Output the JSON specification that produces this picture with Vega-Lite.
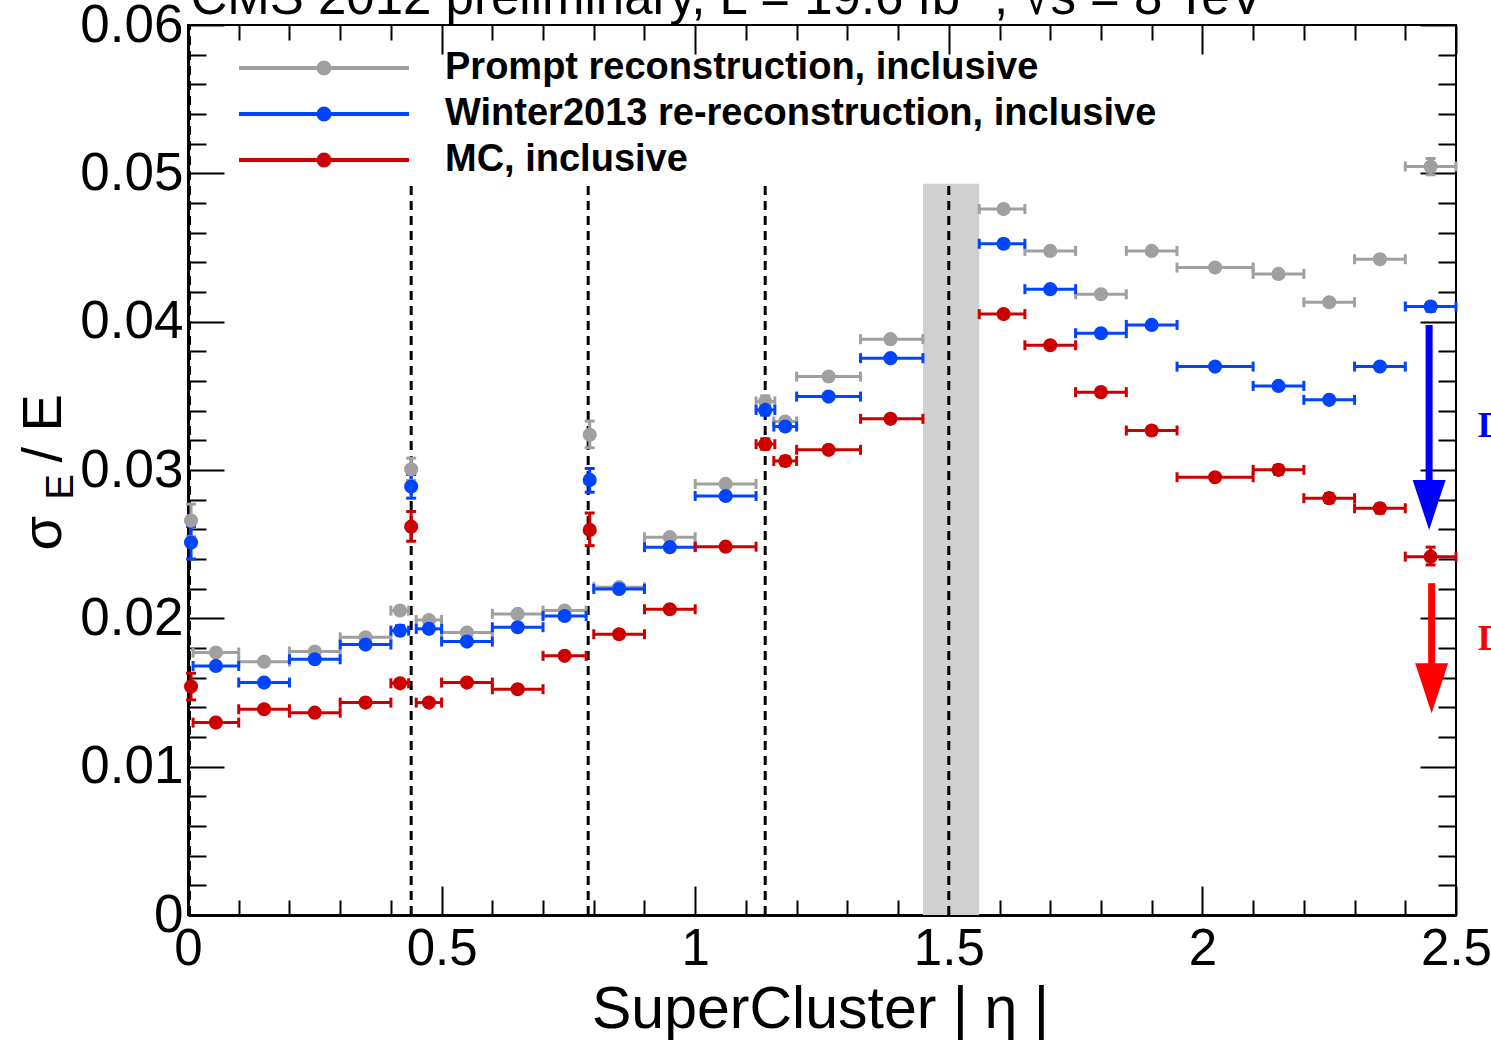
{
  "$schema": "https://vega.github.io/schema/vega-lite/v6.json",
  "width": 1268,
  "height": 890,
  "autosize": {"type": "none"},
  "padding": {"left": 188, "top": 25, "right": 35, "bottom": 127},
  "background": "white",
  "datasets": {
    "band": [{"x1": 1.449, "x2": 1.56, "y1": 0, "y2": 0.0493}],
    "lines": [
      {"x": 0.003, "yb": 0, "yt": 0.06},
      {"x": 0.44, "yb": 0, "yt": 0.0493},
      {"x": 0.789, "yb": 0, "yt": 0.0493},
      {"x": 1.138, "yb": 0, "yt": 0.0493},
      {"x": 1.5, "yb": 0, "yt": 0.0493}
    ],
    "arrows": [
      {"c": "#0000ff", "x": 2.447, "y1": 0.03978, "y2": 0.0276, "tip": 0.02596},
      {"c": "#ff0000", "x": 2.452, "y1": 0.02237, "y2": 0.01524, "tip": 0.0136}
    ],
    "notes": [
      {"c": "#0000ff", "x": 2.543, "y": 0.03223, "t": "Data"},
      {"c": "#ff0000", "x": 2.543, "y": 0.01787, "t": "Data"}
    ],
    "pts": [
      {"s": "Prompt reconstruction, inclusive", "x": 0.006, "xlo": 0.006, "xhi": 0.006, "y": 0.02659, "ylo": 0.0255, "yhi": 0.0277},
      {"s": "Prompt reconstruction, inclusive", "x": 0.055, "xlo": 0.01, "xhi": 0.1, "y": 0.01769, "ylo": 0.01769, "yhi": 0.01769},
      {"s": "Prompt reconstruction, inclusive", "x": 0.15, "xlo": 0.1, "xhi": 0.2, "y": 0.01708, "ylo": 0.01708, "yhi": 0.01708},
      {"s": "Prompt reconstruction, inclusive", "x": 0.25, "xlo": 0.2, "xhi": 0.3, "y": 0.01776, "ylo": 0.01776, "yhi": 0.01776},
      {"s": "Prompt reconstruction, inclusive", "x": 0.35, "xlo": 0.3, "xhi": 0.4, "y": 0.01872, "ylo": 0.01872, "yhi": 0.01872},
      {"s": "Prompt reconstruction, inclusive", "x": 0.418, "xlo": 0.4, "xhi": 0.435, "y": 0.02052, "ylo": 0.0203, "yhi": 0.0207},
      {"s": "Prompt reconstruction, inclusive", "x": 0.44, "xlo": 0.44, "xhi": 0.44, "y": 0.03005, "ylo": 0.0293, "yhi": 0.0308},
      {"s": "Prompt reconstruction, inclusive", "x": 0.475, "xlo": 0.45, "xhi": 0.5, "y": 0.01989, "ylo": 0.0197, "yhi": 0.0201},
      {"s": "Prompt reconstruction, inclusive", "x": 0.55, "xlo": 0.5, "xhi": 0.6, "y": 0.01904, "ylo": 0.01904, "yhi": 0.01904},
      {"s": "Prompt reconstruction, inclusive", "x": 0.65, "xlo": 0.6, "xhi": 0.7, "y": 0.0203, "ylo": 0.0203, "yhi": 0.0203},
      {"s": "Prompt reconstruction, inclusive", "x": 0.7425, "xlo": 0.7, "xhi": 0.785, "y": 0.02052, "ylo": 0.02052, "yhi": 0.02052},
      {"s": "Prompt reconstruction, inclusive", "x": 0.792, "xlo": 0.792, "xhi": 0.792, "y": 0.03237, "ylo": 0.0315, "yhi": 0.0333},
      {"s": "Prompt reconstruction, inclusive", "x": 0.85, "xlo": 0.8, "xhi": 0.9, "y": 0.0221, "ylo": 0.0221, "yhi": 0.0221},
      {"s": "Prompt reconstruction, inclusive", "x": 0.95, "xlo": 0.9, "xhi": 1.0, "y": 0.02547, "ylo": 0.02547, "yhi": 0.02547},
      {"s": "Prompt reconstruction, inclusive", "x": 1.06, "xlo": 1.0, "xhi": 1.12, "y": 0.02906, "ylo": 0.02906, "yhi": 0.02906},
      {"s": "Prompt reconstruction, inclusive", "x": 1.138, "xlo": 1.12, "xhi": 1.157, "y": 0.03462, "ylo": 0.0343, "yhi": 0.035},
      {"s": "Prompt reconstruction, inclusive", "x": 1.1775, "xlo": 1.155, "xhi": 1.2, "y": 0.03327, "ylo": 0.0331, "yhi": 0.0335},
      {"s": "Prompt reconstruction, inclusive", "x": 1.263, "xlo": 1.2, "xhi": 1.326, "y": 0.0363, "ylo": 0.0363, "yhi": 0.0363},
      {"s": "Prompt reconstruction, inclusive", "x": 1.385, "xlo": 1.326, "xhi": 1.449, "y": 0.03882, "ylo": 0.03882, "yhi": 0.03882},
      {"s": "Prompt reconstruction, inclusive", "x": 1.608, "xlo": 1.56, "xhi": 1.65, "y": 0.04759, "ylo": 0.04759, "yhi": 0.04759},
      {"s": "Prompt reconstruction, inclusive", "x": 1.7, "xlo": 1.65, "xhi": 1.75, "y": 0.04477, "ylo": 0.04477, "yhi": 0.04477},
      {"s": "Prompt reconstruction, inclusive", "x": 1.8, "xlo": 1.75, "xhi": 1.85, "y": 0.04185, "ylo": 0.04185, "yhi": 0.04185},
      {"s": "Prompt reconstruction, inclusive", "x": 1.9, "xlo": 1.85, "xhi": 1.95, "y": 0.04477, "ylo": 0.04477, "yhi": 0.04477},
      {"s": "Prompt reconstruction, inclusive", "x": 2.025, "xlo": 1.95, "xhi": 2.1, "y": 0.04365, "ylo": 0.04365, "yhi": 0.04365},
      {"s": "Prompt reconstruction, inclusive", "x": 2.15, "xlo": 2.1, "xhi": 2.2, "y": 0.04322, "ylo": 0.04322, "yhi": 0.04322},
      {"s": "Prompt reconstruction, inclusive", "x": 2.25, "xlo": 2.2, "xhi": 2.3, "y": 0.04131, "ylo": 0.04131, "yhi": 0.04131},
      {"s": "Prompt reconstruction, inclusive", "x": 2.35, "xlo": 2.3, "xhi": 2.4, "y": 0.04421, "ylo": 0.04421, "yhi": 0.04421},
      {"s": "Prompt reconstruction, inclusive", "x": 2.45, "xlo": 2.4, "xhi": 2.5, "y": 0.05046, "ylo": 0.0499, "yhi": 0.051},

      {"s": "Winter2013 re-reconstruction, inclusive", "x": 0.006, "xlo": 0.006, "xhi": 0.006, "y": 0.02511, "ylo": 0.024, "yhi": 0.0262},
      {"s": "Winter2013 re-reconstruction, inclusive", "x": 0.055, "xlo": 0.01, "xhi": 0.1, "y": 0.01679, "ylo": 0.01679, "yhi": 0.01679},
      {"s": "Winter2013 re-reconstruction, inclusive", "x": 0.15, "xlo": 0.1, "xhi": 0.2, "y": 0.01567, "ylo": 0.01567, "yhi": 0.01567},
      {"s": "Winter2013 re-reconstruction, inclusive", "x": 0.25, "xlo": 0.2, "xhi": 0.3, "y": 0.01724, "ylo": 0.01724, "yhi": 0.01724},
      {"s": "Winter2013 re-reconstruction, inclusive", "x": 0.35, "xlo": 0.3, "xhi": 0.4, "y": 0.01823, "ylo": 0.01823, "yhi": 0.01823},
      {"s": "Winter2013 re-reconstruction, inclusive", "x": 0.418, "xlo": 0.4, "xhi": 0.435, "y": 0.01917, "ylo": 0.0189, "yhi": 0.0195},
      {"s": "Winter2013 re-reconstruction, inclusive", "x": 0.44, "xlo": 0.44, "xhi": 0.44, "y": 0.02888, "ylo": 0.0281, "yhi": 0.0297},
      {"s": "Winter2013 re-reconstruction, inclusive", "x": 0.475, "xlo": 0.45, "xhi": 0.5, "y": 0.01929, "ylo": 0.0191, "yhi": 0.0195},
      {"s": "Winter2013 re-reconstruction, inclusive", "x": 0.55, "xlo": 0.5, "xhi": 0.6, "y": 0.01843, "ylo": 0.01843, "yhi": 0.01843},
      {"s": "Winter2013 re-reconstruction, inclusive", "x": 0.65, "xlo": 0.6, "xhi": 0.7, "y": 0.0194, "ylo": 0.0194, "yhi": 0.0194},
      {"s": "Winter2013 re-reconstruction, inclusive", "x": 0.7425, "xlo": 0.7, "xhi": 0.785, "y": 0.02016, "ylo": 0.02016, "yhi": 0.02016},
      {"s": "Winter2013 re-reconstruction, inclusive", "x": 0.792, "xlo": 0.792, "xhi": 0.792, "y": 0.02933, "ylo": 0.0285, "yhi": 0.0301},
      {"s": "Winter2013 re-reconstruction, inclusive", "x": 0.85, "xlo": 0.8, "xhi": 0.9, "y": 0.02198, "ylo": 0.02198, "yhi": 0.02198},
      {"s": "Winter2013 re-reconstruction, inclusive", "x": 0.95, "xlo": 0.9, "xhi": 1.0, "y": 0.0248, "ylo": 0.0248, "yhi": 0.0248},
      {"s": "Winter2013 re-reconstruction, inclusive", "x": 1.06, "xlo": 1.0, "xhi": 1.12, "y": 0.02825, "ylo": 0.02825, "yhi": 0.02825},
      {"s": "Winter2013 re-reconstruction, inclusive", "x": 1.138, "xlo": 1.12, "xhi": 1.157, "y": 0.03405, "ylo": 0.0337, "yhi": 0.0344},
      {"s": "Winter2013 re-reconstruction, inclusive", "x": 1.1775, "xlo": 1.155, "xhi": 1.2, "y": 0.03293, "ylo": 0.0327, "yhi": 0.0332},
      {"s": "Winter2013 re-reconstruction, inclusive", "x": 1.263, "xlo": 1.2, "xhi": 1.326, "y": 0.03495, "ylo": 0.03495, "yhi": 0.03495},
      {"s": "Winter2013 re-reconstruction, inclusive", "x": 1.385, "xlo": 1.326, "xhi": 1.449, "y": 0.03754, "ylo": 0.03754, "yhi": 0.03754},
      {"s": "Winter2013 re-reconstruction, inclusive", "x": 1.608, "xlo": 1.56, "xhi": 1.65, "y": 0.04525, "ylo": 0.045, "yhi": 0.0455},
      {"s": "Winter2013 re-reconstruction, inclusive", "x": 1.7, "xlo": 1.65, "xhi": 1.75, "y": 0.04219, "ylo": 0.04219, "yhi": 0.04219},
      {"s": "Winter2013 re-reconstruction, inclusive", "x": 1.8, "xlo": 1.75, "xhi": 1.85, "y": 0.03922, "ylo": 0.03922, "yhi": 0.03922},
      {"s": "Winter2013 re-reconstruction, inclusive", "x": 1.9, "xlo": 1.85, "xhi": 1.95, "y": 0.03978, "ylo": 0.03978, "yhi": 0.03978},
      {"s": "Winter2013 re-reconstruction, inclusive", "x": 2.025, "xlo": 1.95, "xhi": 2.1, "y": 0.03697, "ylo": 0.03697, "yhi": 0.03697},
      {"s": "Winter2013 re-reconstruction, inclusive", "x": 2.15, "xlo": 2.1, "xhi": 2.2, "y": 0.03567, "ylo": 0.03567, "yhi": 0.03567},
      {"s": "Winter2013 re-reconstruction, inclusive", "x": 2.25, "xlo": 2.2, "xhi": 2.3, "y": 0.03473, "ylo": 0.03473, "yhi": 0.03473},
      {"s": "Winter2013 re-reconstruction, inclusive", "x": 2.35, "xlo": 2.3, "xhi": 2.4, "y": 0.03697, "ylo": 0.0368, "yhi": 0.0372},
      {"s": "Winter2013 re-reconstruction, inclusive", "x": 2.45, "xlo": 2.4, "xhi": 2.5, "y": 0.04102, "ylo": 0.0407, "yhi": 0.0413},

      {"s": "MC, inclusive", "x": 0.006, "xlo": 0.006, "xhi": 0.006, "y": 0.0154, "ylo": 0.0145, "yhi": 0.0163},
      {"s": "MC, inclusive", "x": 0.055, "xlo": 0.01, "xhi": 0.1, "y": 0.01297, "ylo": 0.01297, "yhi": 0.01297},
      {"s": "MC, inclusive", "x": 0.15, "xlo": 0.1, "xhi": 0.2, "y": 0.01387, "ylo": 0.01387, "yhi": 0.01387},
      {"s": "MC, inclusive", "x": 0.25, "xlo": 0.2, "xhi": 0.3, "y": 0.01364, "ylo": 0.01364, "yhi": 0.01364},
      {"s": "MC, inclusive", "x": 0.35, "xlo": 0.3, "xhi": 0.4, "y": 0.01432, "ylo": 0.01432, "yhi": 0.01432},
      {"s": "MC, inclusive", "x": 0.418, "xlo": 0.4, "xhi": 0.435, "y": 0.01562, "ylo": 0.0154, "yhi": 0.0158},
      {"s": "MC, inclusive", "x": 0.44, "xlo": 0.44, "xhi": 0.44, "y": 0.02618, "ylo": 0.0252, "yhi": 0.0272},
      {"s": "MC, inclusive", "x": 0.475, "xlo": 0.45, "xhi": 0.5, "y": 0.01432, "ylo": 0.01432, "yhi": 0.01432},
      {"s": "MC, inclusive", "x": 0.55, "xlo": 0.5, "xhi": 0.6, "y": 0.01567, "ylo": 0.01567, "yhi": 0.01567},
      {"s": "MC, inclusive", "x": 0.65, "xlo": 0.6, "xhi": 0.7, "y": 0.01522, "ylo": 0.01522, "yhi": 0.01522},
      {"s": "MC, inclusive", "x": 0.7425, "xlo": 0.7, "xhi": 0.785, "y": 0.01747, "ylo": 0.01747, "yhi": 0.01747},
      {"s": "MC, inclusive", "x": 0.792, "xlo": 0.792, "xhi": 0.792, "y": 0.02596, "ylo": 0.0249, "yhi": 0.0271},
      {"s": "MC, inclusive", "x": 0.85, "xlo": 0.8, "xhi": 0.9, "y": 0.01893, "ylo": 0.01893, "yhi": 0.01893},
      {"s": "MC, inclusive", "x": 0.95, "xlo": 0.9, "xhi": 1.0, "y": 0.02061, "ylo": 0.02061, "yhi": 0.02061},
      {"s": "MC, inclusive", "x": 1.06, "xlo": 1.0, "xhi": 1.12, "y": 0.02483, "ylo": 0.02483, "yhi": 0.02483},
      {"s": "MC, inclusive", "x": 1.138, "xlo": 1.12, "xhi": 1.157, "y": 0.03174, "ylo": 0.0314, "yhi": 0.0321},
      {"s": "MC, inclusive", "x": 1.1775, "xlo": 1.155, "xhi": 1.2, "y": 0.03061, "ylo": 0.0303, "yhi": 0.0309},
      {"s": "MC, inclusive", "x": 1.263, "xlo": 1.2, "xhi": 1.326, "y": 0.03136, "ylo": 0.03136, "yhi": 0.03136},
      {"s": "MC, inclusive", "x": 1.385, "xlo": 1.326, "xhi": 1.449, "y": 0.03345, "ylo": 0.03345, "yhi": 0.03345},
      {"s": "MC, inclusive", "x": 1.608, "xlo": 1.56, "xhi": 1.65, "y": 0.04051, "ylo": 0.0403, "yhi": 0.0407},
      {"s": "MC, inclusive", "x": 1.7, "xlo": 1.65, "xhi": 1.75, "y": 0.03841, "ylo": 0.0382, "yhi": 0.0386},
      {"s": "MC, inclusive", "x": 1.8, "xlo": 1.75, "xhi": 1.85, "y": 0.03525, "ylo": 0.035, "yhi": 0.0355},
      {"s": "MC, inclusive", "x": 1.9, "xlo": 1.85, "xhi": 1.95, "y": 0.03266, "ylo": 0.0324, "yhi": 0.0329},
      {"s": "MC, inclusive", "x": 2.025, "xlo": 1.95, "xhi": 2.1, "y": 0.02951, "ylo": 0.0293, "yhi": 0.0297},
      {"s": "MC, inclusive", "x": 2.15, "xlo": 2.1, "xhi": 2.2, "y": 0.03001, "ylo": 0.0297, "yhi": 0.0303},
      {"s": "MC, inclusive", "x": 2.25, "xlo": 2.2, "xhi": 2.3, "y": 0.0281, "ylo": 0.0278, "yhi": 0.0284},
      {"s": "MC, inclusive", "x": 2.35, "xlo": 2.3, "xhi": 2.4, "y": 0.02742, "ylo": 0.0271, "yhi": 0.0277},
      {"s": "MC, inclusive", "x": 2.45, "xlo": 2.4, "xhi": 2.5, "y": 0.02416, "ylo": 0.0236, "yhi": 0.0248}
    ]
  },
  "layer": [
    {
      "data": {"name": "band"},
      "mark": {"type": "rect", "color": "#d0d0d0"},
      "encoding": {
        "x": {"field": "x1", "type": "quantitative", "scale": {"domain": [0, 2.5], "nice": false, "zero": false},
          "axis": {"orient": "bottom", "values": [0, 0.5, 1, 1.5, 2, 2.5], "format": "~g", "tickSize": -29, "tickWidth": 2, "tickColor": "black", "domain": true, "domainColor": "black", "domainWidth": 3, "labelFontSize": 51, "labelColor": "black", "labelPadding": 38, "labelFlush": false, "labelOverlap": false, "labelBound": false, "grid": false,
            "title": "SuperCluster | η |", "titleFontSize": 59, "titleColor": "black", "titleFontWeight": "normal", "titleBaseline": "alphabetic", "titleAnchor": "middle", "titleX": 632, "titleY": 112}},
        "x2": {"field": "x2"},
        "y": {"field": "y1", "type": "quantitative", "scale": {"domain": [0, 0.06], "nice": false, "zero": false},
          "axis": {"orient": "left", "values": [0, 0.01, 0.02, 0.03, 0.04, 0.05, 0.06], "labelExpr": "datum.value == 0 ? '0' : format(datum.value, '.2f')", "tickSize": -36, "tickWidth": 2, "tickColor": "black", "domain": true, "domainColor": "black", "domainWidth": 3, "labelFontSize": 53, "labelColor": "black", "labelPadding": 41, "labelFlush": false, "labelOverlap": false, "labelBound": false, "grid": false,
            "title": "σ", "titleFontSize": 56, "titleColor": "black", "titleFontWeight": "normal", "titleAngle": 270, "titleAlign": "left", "titleBaseline": "alphabetic", "titleX": -128, "titleY": 525}},
        "y2": {"field": "y2"}
      }
    },
    {
      "data": {"name": "lines"},
      "mark": {"type": "rule", "color": "black", "strokeWidth": 3, "strokeDash": [9, 6]},
      "encoding": {
        "x": {"field": "x", "type": "quantitative",
          "axis": {"orient": "bottom", "values": [0.1, 0.2, 0.3, 0.4, 0.6, 0.7, 0.8, 0.9, 1.1, 1.2, 1.3, 1.4, 1.6, 1.7, 1.8, 1.9, 2.1, 2.2, 2.3, 2.4], "tickSize": -15, "tickWidth": 2, "tickColor": "black", "labels": false, "domain": false, "grid": false, "title": null}},
        "y": {"field": "yb", "type": "quantitative",
          "axis": {"orient": "left", "values": [0.002, 0.004, 0.006, 0.008, 0.012, 0.014, 0.016, 0.018, 0.022, 0.024, 0.026, 0.028, 0.032, 0.034, 0.036, 0.038, 0.042, 0.044, 0.046, 0.048, 0.052, 0.054, 0.056, 0.058], "tickSize": -18, "tickWidth": 2, "tickColor": "black", "labels": false, "domain": false, "grid": false,
            "title": "E", "titleFontSize": 38, "titleColor": "black", "titleFontWeight": "normal", "titleAngle": 270, "titleAlign": "left", "titleBaseline": "alphabetic", "titleX": -116, "titleY": 474}},
        "y2": {"field": "yt"}
      }
    },
    {
      "data": {"name": "pts"},
      "transform": [{"filter": "datum.xhi > datum.xlo"}],
      "mark": {"type": "rule", "strokeWidth": 3, "opacity": 1},
      "encoding": {
        "x": {"field": "xlo", "type": "quantitative",
          "axis": {"orient": "top", "values": [0, 0.5, 1, 1.5, 2, 2.5], "tickSize": -29, "tickWidth": 2, "tickColor": "black", "labels": false, "domain": false, "grid": false,
            "title": "CMS 2012 preliminary, L = 19.6 fb⁻¹, √s = 8 TeV", "titleFontSize": 51, "titleColor": "black", "titleFontWeight": "normal", "titleAngle": 0, "titleAlign": "left", "titleAnchor": "start", "titleBaseline": "alphabetic", "titleX": 2, "titleY": -12}},
        "x2": {"field": "xhi"},
        "y": {"field": "y", "type": "quantitative",
          "axis": {"orient": "right", "values": [0, 0.01, 0.02, 0.03, 0.04, 0.05, 0.06], "tickSize": -36, "tickWidth": 2, "tickColor": "black", "labels": false, "domain": false, "grid": false,
            "title": "/ E", "titleFontSize": 56, "titleColor": "black", "titleFontWeight": "normal", "titleAngle": 270, "titleAlign": "left", "titleBaseline": "alphabetic", "titleX": -1396, "titleY": 437}},
        "color": {"field": "s", "type": "nominal"}
      }
    },
    {
      "data": {"name": "pts"},
      "transform": [{"filter": "datum.xhi > datum.xlo"}, {"fold": ["xlo", "xhi"], "as": ["k", "cx"]}],
      "mark": {"type": "tick", "orient": "vertical", "size": 10, "thickness": 3, "opacity": 1},
      "encoding": {
        "x": {"field": "cx", "type": "quantitative",
          "axis": {"orient": "top", "values": [0.1, 0.2, 0.3, 0.4, 0.6, 0.7, 0.8, 0.9, 1.1, 1.2, 1.3, 1.4, 1.6, 1.7, 1.8, 1.9, 2.1, 2.2, 2.3, 2.4], "tickSize": -15, "tickWidth": 2, "tickColor": "black", "labels": false, "domain": false, "grid": false, "title": null}},
        "y": {"field": "y", "type": "quantitative",
          "axis": {"orient": "right", "values": [0.002, 0.004, 0.006, 0.008, 0.012, 0.014, 0.016, 0.018, 0.022, 0.024, 0.026, 0.028, 0.032, 0.034, 0.036, 0.038, 0.042, 0.044, 0.046, 0.048, 0.052, 0.054, 0.056, 0.058], "tickSize": -18, "tickWidth": 2, "tickColor": "black", "labels": false, "domain": false, "grid": false, "title": null}},
        "color": {"field": "s", "type": "nominal"}
      }
    },
    {
      "data": {"name": "pts"},
      "transform": [{"filter": "datum.yhi > datum.ylo"}],
      "mark": {"type": "rule", "strokeWidth": 3, "opacity": 1},
      "encoding": {
        "x": {"field": "x", "type": "quantitative", "axis": null},
        "y": {"field": "ylo", "type": "quantitative", "axis": null},
        "y2": {"field": "yhi"},
        "color": {"field": "s", "type": "nominal"}
      }
    },
    {
      "data": {"name": "pts"},
      "transform": [{"filter": "datum.yhi > datum.ylo"}, {"fold": ["ylo", "yhi"], "as": ["k", "cy"]}],
      "mark": {"type": "tick", "orient": "horizontal", "size": 10, "thickness": 3, "opacity": 1},
      "encoding": {
        "x": {"field": "x", "type": "quantitative", "axis": null},
        "y": {"field": "cy", "type": "quantitative", "axis": null},
        "color": {"field": "s", "type": "nominal"}
      }
    },
    {
      "data": {"name": "pts"},
      "mark": {"type": "circle", "size": 200, "opacity": 1},
      "encoding": {
        "x": {"field": "x", "type": "quantitative", "axis": null},
        "y": {"field": "y", "type": "quantitative", "axis": null},
        "color": {"field": "s", "type": "nominal",
          "scale": {"domain": ["Prompt reconstruction, inclusive", "Winter2013 re-reconstruction, inclusive", "MC, inclusive"], "range": ["#a0a0a0", "#0044ff", "#cc0000"]},
          "legend": {"orient": "none", "legendX": 117, "legendY": 24, "title": null,
            "symbolType": "M-5.667,0L5.667,0M0.367,0A0.367,0.367,0,1,1,-0.367,0A0.367,0.367,0,1,1,0.367,0Z",
            "symbolSize": 900, "symbolStrokeWidth": 4, "labelFontSize": 38, "labelFont": "Liberation Sans", "labelFontWeight": "bold", "labelColor": "black", "labelOffset": 102, "rowPadding": 8, "labelLimit": 0, "padding": 0,
            "encode": {"symbols": {"update": {"stroke": {"scale": "color", "field": "value"}, "fill": {"scale": "color", "field": "value"}, "strokeWidth": {"value": 4}, "opacity": {"value": 1}}}}}}
      }
    },
    {
      "data": {"name": "arrows"},
      "mark": {"type": "rule", "strokeWidth": 7},
      "encoding": {
        "x": {"field": "x", "type": "quantitative", "axis": null},
        "y": {"field": "y1", "type": "quantitative", "axis": null},
        "y2": {"field": "y2"},
        "stroke": {"field": "c", "type": "nominal", "scale": null, "legend": null}
      }
    },
    {
      "data": {"name": "arrows"},
      "mark": {"type": "point", "shape": "M-0.66,-2L0.66,-2L0,0Z", "size": 2500, "filled": true, "opacity": 1, "strokeWidth": 0},
      "encoding": {
        "x": {"field": "x", "type": "quantitative", "axis": null},
        "y": {"field": "tip", "type": "quantitative", "axis": null},
        "fill": {"field": "c", "type": "nominal", "scale": null, "legend": null}
      }
    },
    {
      "data": {"name": "notes"},
      "mark": {"type": "text", "font": "Liberation Serif", "fontWeight": "bold", "fontSize": 36, "align": "left", "baseline": "alphabetic"},
      "encoding": {
        "x": {"field": "x", "type": "quantitative", "axis": null},
        "y": {"field": "y", "type": "quantitative", "axis": null},
        "text": {"field": "t"},
        "fill": {"field": "c", "type": "nominal", "scale": null, "legend": null}
      }
    }
  ],
  "resolve": {"axis": {"x": "independent", "y": "independent"}},
  "config": {
    "view": {"stroke": "black", "strokeWidth": 2},
    "font": "Liberation Sans",
    "axis": {"labelFont": "Liberation Sans", "titleFont": "Liberation Sans"}
  }
}
